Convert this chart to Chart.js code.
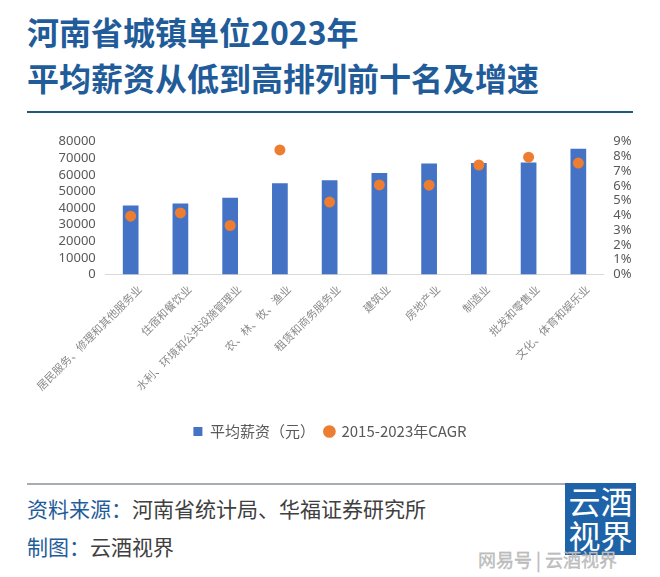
<!DOCTYPE html>
<html>
<head>
<meta charset="utf-8">
<script src="https://cdn.jsdelivr.net/npm/chart.js@4/dist/chart.umd.min.js"></script>
<style>
  html,body{margin:0;padding:0;background:#fff;}
  #page{position:relative;width:660px;height:577px;overflow:hidden;background:#fff;font-family:"Noto Sans CJK SC","Noto Sans",sans-serif;}
  .title{position:absolute;left:27px;font-size:32px;line-height:32px;font-weight:700;color:#1f5c99;white-space:nowrap;letter-spacing:0px;}
  #rule1{position:absolute;left:27px;top:111px;width:606px;height:2px;background:#1f5a7c;}
  #chartbox{position:absolute;left:0;top:120px;width:660px;height:340px;}
  #rule2{position:absolute;left:27px;top:483px;width:538px;height:2px;background:#a7adb2;}
  .foot{position:absolute;left:27px;font-size:21px;line-height:24px;color:#404040;white-space:nowrap;}
  .foot b{font-weight:400;color:#1f5c99;}
  #logo{position:absolute;left:565px;top:483px;width:71px;height:72px;background:#1e63a8;color:#fff;font-size:32px;line-height:34px;text-align:center;font-weight:400;letter-spacing:0px;}
  #wm{position:absolute;left:478px;top:548px;font-size:18px;line-height:22px;color:#c4c4c4;white-space:nowrap;-webkit-text-stroke:0.3px #a8a8a8;}
</style>
</head>
<body>
<div id="page">
  <div class="title" style="top:15px;">河南省城镇单位2023年</div>
  <div class="title" style="top:61px;">平均薪资从低到高排列前十名及增速</div>
  <div id="rule1"></div>
  <div id="chartbox"><canvas id="c" width="660" height="340"></canvas></div>
  <div id="rule2"></div>
  <div class="foot" style="top:496px;"><b>资料来源：</b>河南省统计局、华福证券研究所</div>
  <div class="foot" style="top:534px;"><b>制图：</b>云酒视界</div>
  <div id="logo">云酒<br>视界</div>
  <div id="wm">网易号 | 云酒视界</div>
</div>
<script>
const categories = [
  "居民服务、修理和其他服务业",
  "住宿和餐饮业",
  "水利、环境和公共设施管理业",
  "农、林、牧、渔业",
  "租赁和商务服务业",
  "建筑业",
  "房地产业",
  "制造业",
  "批发和零售业",
  "文化、体育和娱乐业"
];
const salary = [41600, 42800, 46200, 55000, 56800, 61200, 66800, 67200, 67500, 75700];
const cagr = [3.95, 4.17, 3.32, 8.44, 4.91, 6.07, 6.05, 7.42, 7.95, 7.55];
const seriesNames = ["平均薪资（元）", "2015-2023年CAGR"];

const tickColor = "#595959";
new Chart(document.getElementById("c"), {
  type: "bar",
  data: {
    labels: categories,
    datasets: [
      {
        type: "line",
        label: seriesNames[1],
        data: cagr,
        yAxisID: "y1",
        showLine: false,
        pointStyle: "circle",
        pointRadius: 5.5,
        pointHoverRadius: 5.5,
        backgroundColor: "#ed7d31",
        borderColor: "#ed7d31",
        pointBorderWidth: 0,
        order: 0
      },
      {
        type: "bar",
        label: seriesNames[0],
        data: salary,
        yAxisID: "y",
        backgroundColor: "#4472c4",
        borderWidth: 0,
        pointStyle: "rect",
        categoryPercentage: 1,
        barPercentage: 0.316,
        order: 1
      }
    ]
  },
  options: {
    responsive: false,
    animation: false,
    layout: { padding: { top: 21.7, bottom: 11, left: 0, right: 0 } },
    plugins: {
      tooltip: { enabled: false },
      legend: {
        position: "bottom",
        reverse: true,
        labels: {
          usePointStyle: true,
          boxHeight: 9,
          boxWidth: 9,
          padding: 10,
          color: tickColor,
          font: { family: "'Noto Sans CJK SC'", size: 15 }
        }
      }
    },
    scales: {
      x: {
        grid: { display: false, drawTicks: false },
        border: { display: true, color: "#d9d9d9", width: 1 },
        ticks: {
          autoSkip: false,
          maxRotation: 45,
          minRotation: 45,
          padding: 8,
          labelOffset: 9,
          color: "#8a8a8a",
          font: { family: "'Noto Sans CJK SC'", size: 11 }
        },
        afterFit: s => { s.height = 139.5; }
      },
      y: {
        position: "left",
        min: 0,
        max: 80000,
        grid: { display: false, drawTicks: false },
        border: { display: false },
        ticks: {
          autoSkip: false,
          stepSize: 10000,
          padding: 10,
          color: tickColor,
          font: { family: "'Noto Sans'", size: 13 },
          callback: v => String(v)
        },
        afterFit: s => { s.width = 105.8; }
      },
      y1: {
        position: "right",
        min: 0,
        max: 9,
        grid: { display: false, drawTicks: false },
        border: { display: false },
        ticks: {
          autoSkip: false,
          stepSize: 1,
          padding: 10,
          color: tickColor,
          font: { family: "'Noto Sans'", size: 13 },
          callback: v => v + "%"
        },
        afterFit: s => { s.width = 56.8; }
      }
    }
  }
});
</script>
</body>
</html>
